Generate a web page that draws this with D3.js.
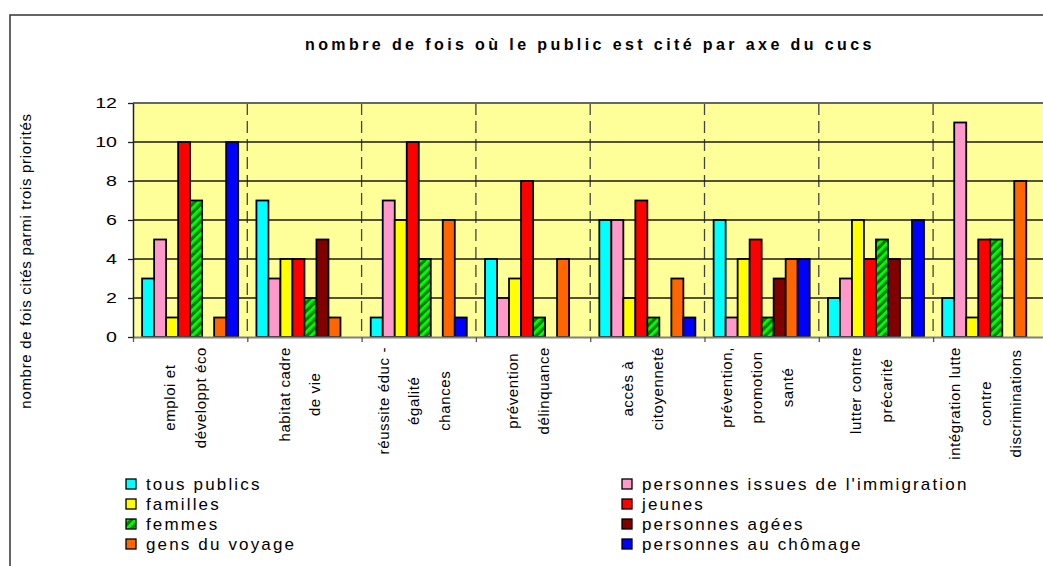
<!DOCTYPE html>
<html><head><meta charset="utf-8">
<script src="https://cdn.jsdelivr.net/npm/d3@7"></script>
<style>
body{margin:0;background:#fff;}
svg text{font-family:"Liberation Sans",Arial,sans-serif;fill:#000;}
</style>
</head><body>
<svg id="c" width="1043" height="566"></svg>
<script>
// ---- data ----
const categories = [
  ["emploi et", "développt éco"],
  ["habitat cadre", "de vie"],
  ["réussite éduc -", "égalité", "chances"],
  ["prévention", "délinquance"],
  ["accès à", "citoyenneté"],
  ["prévention,", "promotion", "santé"],
  ["lutter contre", "précarité"],
  ["intégration lutte", "contre", "discriminations"]
];
const seriesNames = ["tous publics", "personnes issues de l'immigration", "familles", "jeunes",
                     "femmes", "personnes agées", "gens du voyage", "personnes au chômage"];
const seriesColors = ["#00FFFF", "#FF99CC", "#FFFF00", "#FF0000", "url(#hatch)", "#800000", "#FF6600", "#0000FF"];
const tousPublics = [3, 7, 1, 4, 6, 6, 2, 2];
const immigration = [5, 3, 7, 2, 6, 1, 3, 11];
const familles    = [1, 4, 6, 3, 2, 4, 6, 1];
const jeunes      = [10, 4, 10, 8, 7, 5, 4, 5];
const femmes      = [7, 2, 4, 1, 1, 1, 5, 5];
const agees       = [0, 5, 0, 0, 0, 3, 4, 0];
const voyage      = [1, 1, 6, 4, 3, 4, 0, 8];
const chomage     = [10, 0, 1, 0, 1, 4, 6, 0];
const seriesValues = [tousPublics, immigration, familles, jeunes, femmes, agees, voyage, chomage];
const yTicks = [0, 2, 4, 6, 8, 10, 12];
const titleText = "nombre de fois où le public est cité par axe du cucs";
const yAxisTitle = "nombre de fois cités parmi trois priorités";

// ---- layout ----
const svg = d3.select("#c");
const plot = {left: 133, top: 103, bottom: 337, right: 1047.4};

const defs = svg.append("defs");
const pat = defs.append("pattern").attr("id", "hatch").attr("patternUnits", "userSpaceOnUse")
  .attr("width", 6).attr("height", 6).attr("patternTransform", "rotate(45)");
pat.append("rect").attr("width", 6).attr("height", 6).attr("fill", "#008000");
pat.append("rect").attr("width", 2.8).attr("height", 6).attr("fill", "#00FF00");

// outer frame
svg.append("rect").attr("x", 10).attr("y", 15).attr("width", 1200).attr("height", 700)
  .attr("fill", "#fff").attr("stroke", "#333").attr("stroke-width", 1.5);

// title
svg.append("text").attr("x", 305).attr("y", 50).text(titleText)
  .style("font-size", "16px").style("font-weight", "bold").style("letter-spacing", "3.4px");

const x0 = d3.scaleBand().domain(d3.range(categories.length)).range([plot.left, plot.right]);
const x1 = d3.scaleBand().domain(d3.range(seriesNames.length)).range([0, x0.bandwidth()])
  .paddingInner(0).paddingOuter(0.76);
const y = d3.scaleLinear().domain([0, 12]).range([plot.bottom, plot.top]);
const xb = d3.scaleLinear().domain([0, categories.length]).range([plot.left, plot.right]);

// plot background
svg.append("rect").attr("x", plot.left).attr("y", plot.top)
  .attr("width", plot.right - plot.left).attr("height", plot.bottom - plot.top).attr("fill", "#FFFF99");

// dashed category dividers
svg.append("g").selectAll("line").data(d3.range(1, categories.length)).join("line")
  .attr("x1", d => xb(d)).attr("x2", d => xb(d)).attr("y1", plot.top).attr("y2", plot.bottom)
  .attr("stroke", "#444").attr("stroke-width", 1.3).attr("stroke-dasharray", "12,6");

// gridlines
svg.append("g").selectAll("line").data(yTicks.filter(v => v > 0)).join("line")
  .attr("x1", plot.left).attr("x2", plot.right).attr("y1", d => y(d)).attr("y2", d => y(d))
  .attr("stroke", d => d === 12 ? "#666" : "#1a1a1a").attr("stroke-width", d => d === 12 ? 2 : 1.6);

// bars
const rows = [];
seriesValues.forEach((vals, s) => vals.forEach((v, c) => { if (v > 0) rows.push({s, c, v}); }));
svg.append("g").selectAll("rect").data(rows).join("rect")
  .attr("x", d => x0(d.c) + x1(d.s)).attr("width", x1.bandwidth())
  .attr("y", d => y(d.v)).attr("height", d => y(0) - y(d.v))
  .attr("fill", d => seriesColors[d.s]).attr("stroke", "#000").attr("stroke-width", 1.8);

// x axis
const xAxis = svg.append("g").attr("transform", `translate(0,${plot.bottom})`)
  .call(d3.axisBottom(xb).tickValues(d3.range(0, categories.length + 1)).tickFormat("").tickSize(5).tickSizeOuter(0));
xAxis.select(".domain").attr("stroke", "#808080").attr("stroke-width", 2);
xAxis.selectAll(".tick line").attr("stroke", "#555").attr("stroke-width", 1.3);

// y axis
const yAxis = svg.append("g").attr("transform", `translate(${plot.left},0)`)
  .call(d3.axisLeft(y).tickValues(yTicks).tickSize(5).tickSizeOuter(0));
yAxis.select(".domain").attr("stroke", "#222").attr("stroke-width", 1.5);
yAxis.selectAll(".tick line").attr("stroke", "#222").attr("stroke-width", 1.3);
yAxis.selectAll(".tick text").attr("x", 0).attr("transform", "translate(-16,0) scale(1.4,1)")
  .style("font-size", "14px").attr("fill", "#000").style("font-family", "'Liberation Sans',Arial,sans-serif");

// x category labels
const lab = svg.append("g").style("font-size", "15px").style("letter-spacing", "0.6px");
categories.forEach((lines, i) => {
  const n = lines.length;
  const cx = x0(i) + x0.bandwidth() / 2 - 5;
  const ts = lines.map(ln => lab.append("text").text(ln).attr("text-anchor", "middle").attr("dominant-baseline", "central"));
  const maxW = d3.max(ts, t => t.node().getComputedTextLength());
  const yc = 347 + maxW / 2;
  ts.forEach((t, j) => t.attr("transform", `translate(${cx + (j - (n - 1) / 2) * 30.5},${yc}) rotate(-90)`));
});

// y axis title
svg.append("text").attr("transform", "translate(25,261) rotate(-90)")
  .attr("text-anchor", "middle").attr("dominant-baseline", "central")
  .style("font-size", "15px").style("letter-spacing", "0.7px").text(yAxisTitle);

// legend
const legX = [126, 622];
const legend = svg.append("g").selectAll("g").data(seriesNames).join("g")
  .attr("transform", (d, k) => `translate(${legX[k % 2]},${479 + Math.floor(k / 2) * 20})`);
legend.append("rect").attr("width", 10).attr("height", 10)
  .attr("fill", (d, k) => seriesColors[k]).attr("stroke", "#000").attr("stroke-width", 1.3);
legend.append("text").attr("x", 20).attr("y", 10.5).text(d => d)
  .style("font-size", "17px").style("letter-spacing", "2.15px");
</script>
</body></html>
